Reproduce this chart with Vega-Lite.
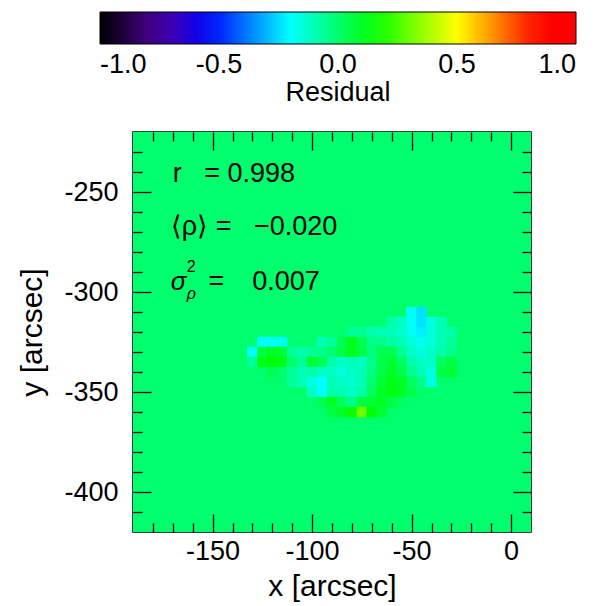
{
  "$schema": "https://vega.github.io/schema/vega-lite/v6.json",
  "width": 398,
  "height": 400,
  "autosize": {"type": "none"},
  "padding": {"left": 133, "top": 132, "right": 71, "bottom": 74},
  "background": "white",
  "config": {
    "font": "Liberation Sans",
    "view": {"stroke": "black", "strokeWidth": 1.5},
    "axis": {"labelColor": "black", "titleColor": "black", "tickColor": "black", "tickWidth": 1.3, "grid": false, "domain": false, "titleFontWeight": "normal", "labelFontSize": 27, "titleFontSize": 30}
  },
  "resolve": {"axis": {"x": "independent", "y": "independent"}},
  "layer": [
    {
      "data": {"values": [{"x0": -190, "x1": 10, "y0": -420, "y1": -220, "r": 0}]},
      "mark": {"type": "rect"},
      "encoding": {
        "x": {"field": "x0", "type": "quantitative", "scale": {"domain": [-190, 10], "nice": false, "zero": false},
              "axis": {"orient": "bottom", "values": [-150, -100, -50, 0], "ticks": false, "labelPadding": 6, "labelExpr": "replace(datum.label, '−', '-')", "title": "x [arcsec]", "titlePadding": 7}},
        "x2": {"field": "x1"},
        "y": {"field": "y0", "type": "quantitative", "scale": {"domain": [-420, -220], "nice": false, "zero": false},
              "axis": {"orient": "left", "values": [-400, -350, -300, -250], "ticks": false, "labelPadding": 15, "labelExpr": "replace(datum.label, '−', '-')", "title": "y [arcsec]", "titlePadding": 16}},
        "y2": {"field": "y1"},
        "color": {"field": "r", "type": "quantitative",
                  "scale": {"domain": [-1, -0.75, -0.55, -0.2, 0.15, 0.5, 0.85, 1], "range": ["#000000", "#50009a", "#0000ff", "#00ffff", "#00ff00", "#ffff00", "#ff0000", "#ff0000"], "interpolate": "rgb"},
                  "legend": {"orient": "none", "legendX": -33, "legendY": -120, "direction": "horizontal", "gradientLength": 476, "gradientThickness": 32, "gradientStrokeColor": "black", "gradientStrokeWidth": 1, "values": [-1, -0.5, 0, 0.5, 1], "format": ".1f", "labelExpr": "replace(datum.label, '−', '-')", "labelFontSize": 27, "labelOffset": 8, "labelOverlap": false, "labelColor": "black", "title": "Residual", "titleOrient": "bottom", "titleAnchor": "middle", "titleFontSize": 27, "titleFontWeight": "normal", "titleColor": "black", "titlePadding": 2, "padding": 0}}
      }
    },
    {
      "data": {"values": [
        {"y": -310, "xs": [-50, -45], "r": [-0.2, -0.24]},
        {"y": -315, "xs": [-60, -55, -50, -45, -40, -35], "r": [-0.08, -0.12, -0.2, -0.24, -0.16, -0.1]},
        {"y": -320, "xs": [-80, -75, -70, -65, -60, -55, -50, -45, -40, -35, -30], "r": [-0.06, -0.05, -0.08, -0.1, -0.1, -0.13, -0.18, -0.22, -0.15, -0.1, -0.08]},
        {"y": -325, "xs": [-125, -120, -115, -95, -90, -85, -80, -75, -70, -65, -60, -55, -50, -45, -40, -35, -30], "r": [-0.2, -0.2, -0.18, -0.1, -0.06, 0.04, 0.12, 0.04, -0.04, -0.04, -0.07, -0.1, -0.15, -0.18, -0.15, -0.1, -0.06]},
        {"y": -330, "xs": [-130, -125, -120, -115, -110, -105, -100, -95, -90, -85, -80, -75, -70, -65, -60, -55, -50, -45, -40, -35, -30], "r": [-0.2, 0.06, 0.1, 0.08, -0.06, -0.08, -0.06, -0.04, 0.0, 0.06, 0.12, 0.06, -0.02, 0.04, 0.04, -0.05, -0.12, -0.16, -0.12, -0.08, -0.04]},
        {"y": -335, "xs": [-130, -125, -120, -115, -110, -105, -100, -95, -90, -85, -80, -75, -70, -65, -60, -55, -50, -45, -40, -35, -30], "r": [-0.06, 0.12, 0.15, 0.12, 0.0, -0.06, 0.08, 0.04, -0.08, -0.12, -0.1, -0.12, -0.04, 0.05, 0.08, 0.02, -0.08, -0.12, -0.12, 0.02, 0.06]},
        {"y": -340, "xs": [-120, -115, -110, -105, -100, -95, -90, -85, -80, -75, -70, -65, -60, -55, -50, -45, -40, -35, -30], "r": [0.04, 0.0, -0.06, -0.1, -0.08, -0.12, -0.12, -0.15, -0.12, -0.1, -0.02, 0.05, 0.1, 0.05, -0.04, -0.1, -0.16, 0.06, 0.08]},
        {"y": -345, "xs": [-110, -105, -100, -95, -90, -85, -80, -75, -70, -65, -60, -55, -50, -45, -40], "r": [-0.06, -0.1, -0.16, -0.2, -0.1, -0.12, -0.14, -0.1, 0.0, 0.08, 0.12, 0.1, 0.02, -0.04, -0.16]},
        {"y": -350, "xs": [-100, -95, -90, -85, -80, -75, -70, -65, -60, -55, -50], "r": [-0.12, -0.2, -0.08, -0.1, -0.12, -0.08, 0.02, 0.1, 0.13, 0.1, 0.04]},
        {"y": -355, "xs": [-95, -90, -85, -80, -75, -70, -65, -60, -55], "r": [0.04, 0.1, 0.02, -0.04, 0.06, 0.08, 0.1, 0.06, 0.02]},
        {"y": -360, "xs": [-90, -85, -80, -75, -70, -65], "r": [0.06, 0.1, 0.16, 0.3, 0.14, 0.08]}
      ]},
      "transform": [{"flatten": ["xs", "r"]}],
      "mark": {"type": "square", "filled": true, "opacity": 1, "size": 110, "strokeWidth": 0},
      "encoding": {
        "x": {"field": "xs", "type": "quantitative", "scale": {"domain": [-190, 10], "nice": false, "zero": false},
              "axis": {"orient": "bottom", "zindex": 1, "values": [-180, -170, -160, -150, -140, -130, -120, -110, -100, -90, -80, -70, -60, -50, -40, -30, -20, -10, 0], "labels": false, "title": null, "tickSize": {"condition": {"test": "datum.value % 50 === 0", "value": -18}, "value": -9}}},
        "y": {"field": "y", "type": "quantitative", "scale": {"domain": [-420, -220], "nice": false, "zero": false},
              "axis": {"orient": "left", "zindex": 1, "values": [-410, -400, -390, -380, -370, -360, -350, -340, -330, -320, -310, -300, -290, -280, -270, -260, -250, -240, -230], "labels": false, "title": null, "tickSize": {"condition": {"test": "datum.value % 50 === 0", "value": -18}, "value": -9}}},
        "color": {"field": "r", "type": "quantitative",
                  "scale": {"domain": [-1, -0.75, -0.55, -0.2, 0.15, 0.5, 0.85, 1], "range": ["#000000", "#50009a", "#0000ff", "#00ffff", "#00ff00", "#ffff00", "#ff0000", "#ff0000"], "interpolate": "rgb"},
                  "legend": {"orient": "none", "legendX": -33, "legendY": -120, "direction": "horizontal", "gradientLength": 476, "gradientThickness": 32, "gradientStrokeColor": "black", "gradientStrokeWidth": 1, "values": [-1, -0.5, 0, 0.5, 1], "format": ".1f", "labelExpr": "replace(datum.label, '−', '-')", "labelFontSize": 27, "labelOffset": 8, "labelOverlap": false, "labelColor": "black", "title": "Residual", "titleOrient": "bottom", "titleAnchor": "middle", "titleFontSize": 27, "titleFontWeight": "normal", "titleColor": "black", "titlePadding": 2, "padding": 0}}
      }
    },
    {
      "data": {"values": [
        {"x": -170, "y": -240.75, "t": "r\u00a0\u00a0\u00a0=\u00a00.998"},
        {"x": -171, "y": -267.25, "t": "⟨ρ⟩\u00a0=\u00a0\u00a0\u00a0−0.020"},
        {"x": -152, "y": -294.9, "t": "=\u00a0\u00a0\u00a0\u20090.007"}
      ]},
      "mark": {"type": "text", "align": "left", "baseline": "middle", "fontSize": 27, "color": "black"},
      "encoding": {
        "x": {"field": "x", "type": "quantitative", "scale": {"domain": [-190, 10], "nice": false, "zero": false},
              "axis": {"orient": "top", "zindex": 1, "values": [-180, -170, -160, -150, -140, -130, -120, -110, -100, -90, -80, -70, -60, -50, -40, -30, -20, -10, 0], "labels": false, "title": null, "tickSize": {"condition": {"test": "datum.value % 50 === 0", "value": -18}, "value": -9}}},
        "y": {"field": "y", "type": "quantitative", "scale": {"domain": [-420, -220], "nice": false, "zero": false},
              "axis": {"orient": "right", "zindex": 1, "values": [-410, -400, -390, -380, -370, -360, -350, -340, -330, -320, -310, -300, -290, -280, -270, -260, -250, -240, -230], "labels": false, "title": null, "tickSize": {"condition": {"test": "datum.value % 50 === 0", "value": -18}, "value": -9}}},
        "text": {"field": "t"}
      }
    },
    {
      "data": {"values": [{"x": -171, "y": -295.2, "s": "σ", "sup": "2", "sub": "ρ"}]},
      "layer": [
        {"mark": {"type": "text", "align": "left", "baseline": "middle", "fontSize": 26, "fontStyle": "italic", "color": "black"},
         "encoding": {"text": {"field": "s"}}},
        {"mark": {"type": "text", "align": "left", "baseline": "middle", "fontSize": 16, "color": "black", "dx": 16, "dy": -15},
         "encoding": {"text": {"field": "sup"}}},
        {"mark": {"type": "text", "align": "left", "baseline": "middle", "fontSize": 16, "fontStyle": "italic", "color": "black", "dx": 16, "dy": 12},
         "encoding": {"text": {"field": "sub"}}}
      ],
      "encoding": {
        "x": {"field": "x", "type": "quantitative", "scale": {"domain": [-190, 10], "nice": false, "zero": false}, "axis": null},
        "y": {"field": "y", "type": "quantitative", "scale": {"domain": [-420, -220], "nice": false, "zero": false}, "axis": null}
      }
    }
  ]
}
